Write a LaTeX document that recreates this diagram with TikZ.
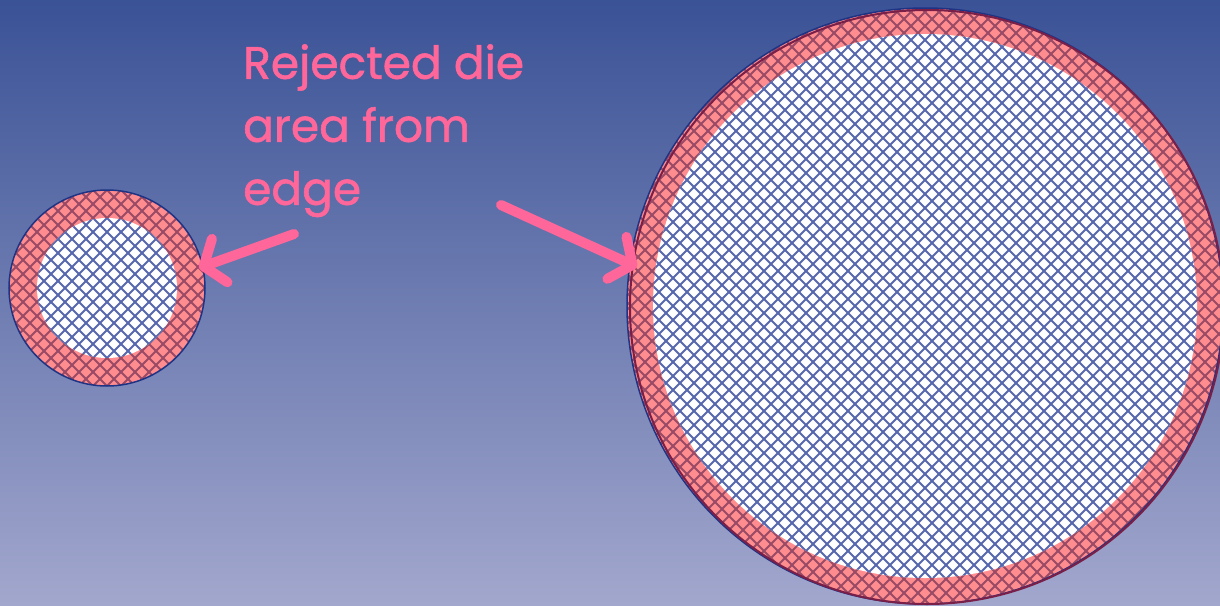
\documentclass[tikz,border=0pt]{standalone}
\usepackage{fontspec}
\newfontfamily\calloutfont{Poppins}[FakeBold=1.3]
\usetikzlibrary{arrows.meta}
\definecolor{bgTop}{HTML}{3A5296}
\definecolor{bgBot}{HTML}{A2A7CD}
\definecolor{edgeFill}{HTML}{FF8C8E}
\definecolor{edgeHatch}{HTML}{9A4A66}
\definecolor{dieHatch}{HTML}{5868AE}
\definecolor{waferLine}{HTML}{1F3385}
\definecolor{waferRim}{HTML}{7A1F48}
\definecolor{callout}{HTML}{FF6699}
% cross-hatch clipped to a disc: centre x, centre y, radius, colour
\newcommand{\hatchdisc}[4]{%
  \begin{scope}
    \clip (#1,#2) circle (#3);
    \foreach \d in {-448,-434,...,448}
      \draw[#4, line width=2pt] ({#1+\d-#3},{#2-#3}) -- ({#1+\d+#3},{#2+#3})
                                ({#1+\d-#3},{#2+#3}) -- ({#1+\d+#3},{#2-#3});
  \end{scope}}

\begin{document}
\begin{tikzpicture}[x=1pt,y=-1pt,lbl/.style={font=\calloutfont\fontsize{45.5}{63}\selectfont, text=callout, align=left, inner sep=0pt},callarrow/.style={draw=callout, line width=10pt, line cap=round, -{Straight Barb[length=17pt, width=46pt, round]}}]
\useasboundingbox (0,0) rectangle (1220,605);
\clip (0,0) rectangle (1220,605);
\shade[top color=bgTop, bottom color=bgBot] (0,0) rectangle (1220,605);
% wafer centres
\coordinate (small) at (107,288);
\coordinate (big) at (925,306);
% small wafer
\fill[edgeFill] (small) circle (98);
\hatchdisc{107}{288}{98}{edgeHatch}
\fill[white] (small) circle (70);
\hatchdisc{107}{288}{70}{dieHatch}
\draw[waferLine, line width=1.5pt] (small) circle (98);
% big wafer
\fill[edgeFill] (big) circle (298);
\hatchdisc{925}{306}{298}{edgeHatch}
\fill[white] (big) circle (272);
\hatchdisc{925}{306}{272}{dieHatch}
\draw[waferLine, line width=1.5pt] (big) circle (298);
\draw[waferRim, line width=2pt] (927,307) circle (297);
% callout
\node[lbl, anchor=north west] (note) at (243,44) {Rejected die\\area from\\edge};
\coordinate (tailS) at (294,234);
\coordinate (tipS) at (199,268);
\coordinate (tailL) at (501,205);
\coordinate (tipL) at (637,267);
\draw[callarrow] (tailS) -- (tipS);
\draw[callarrow] (tailL) -- (tipL);
\end{tikzpicture}
\end{document}
